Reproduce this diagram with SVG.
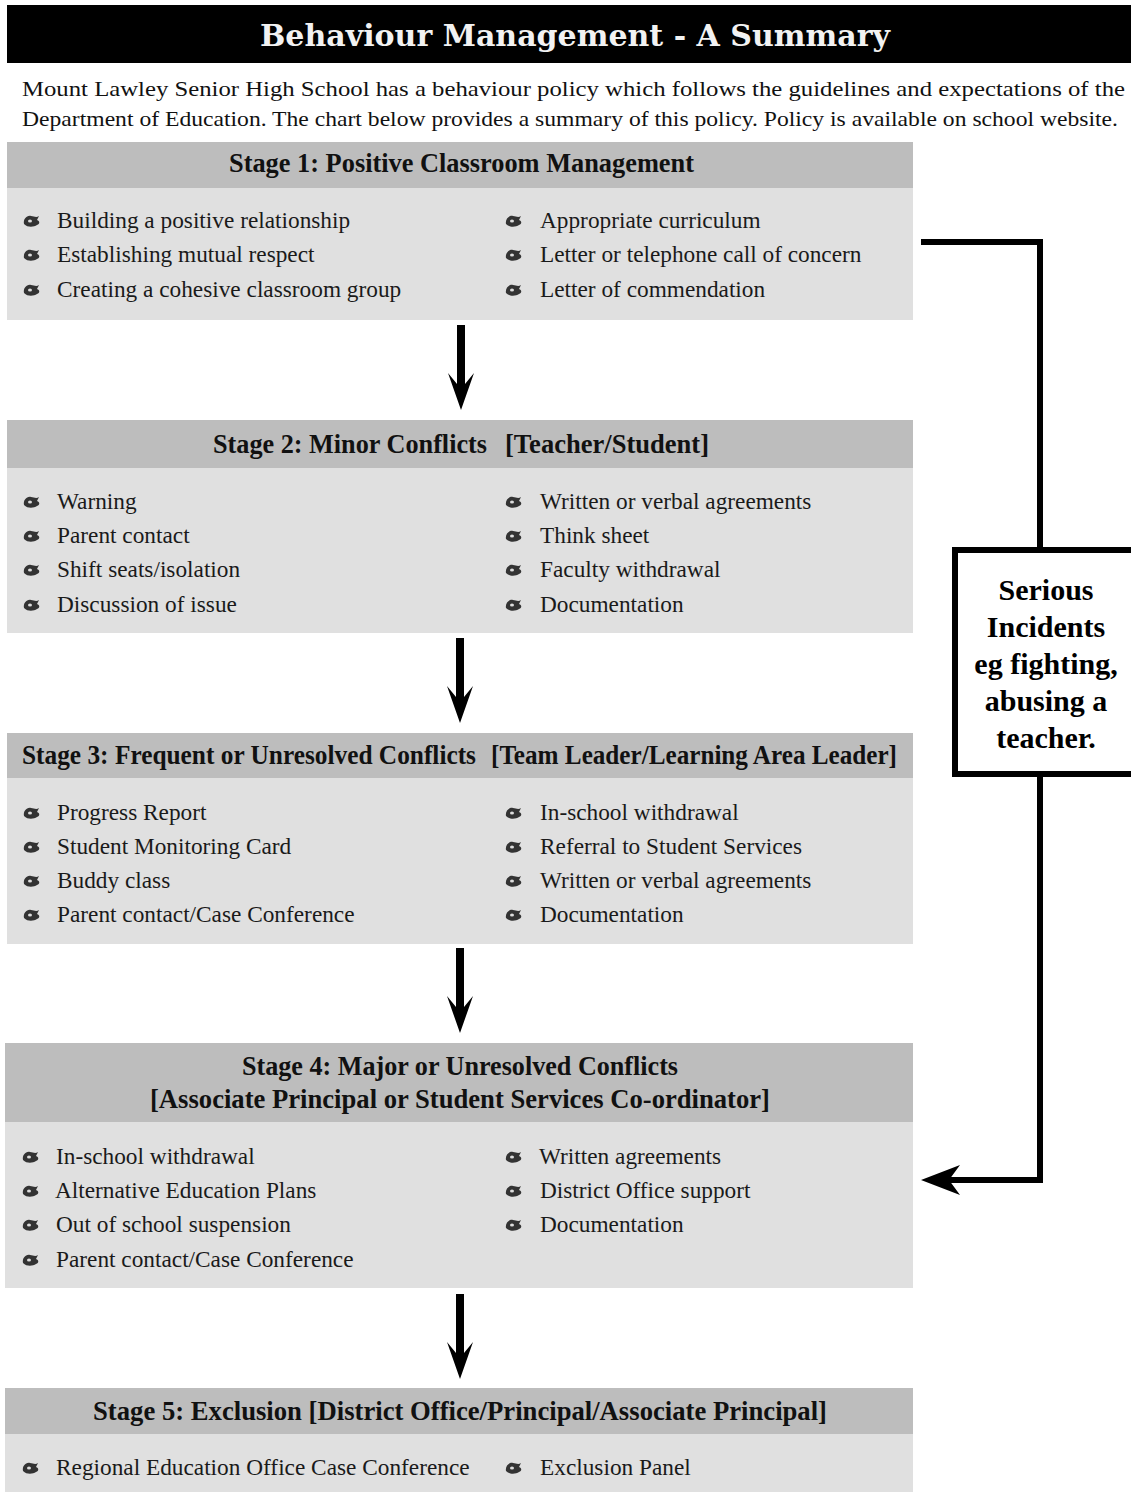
<svg xmlns="http://www.w3.org/2000/svg" width="1131" height="1492" viewBox="0 0 1131 1492">
<defs>
<style>
.hdr{fill:#bdbdbd}
.body{fill:#e0e0e0}
.ht{font-family:"Liberation Serif","Times New Roman",serif;font-weight:bold;font-size:27px;fill:#111}
.it{font-family:"Liberation Serif","Times New Roman",serif;font-size:23.3px;fill:#1a1a1a}
.intro{font-family:"Liberation Serif","Times New Roman",serif;font-size:22px;fill:#111}
.ttl{font-family:"DejaVu Serif","Liberation Serif",serif;font-weight:bold;font-size:30px;fill:#f2f2f2}
.box{font-family:"Liberation Serif","Times New Roman",serif;font-weight:bold;font-size:30px;fill:#000;text-anchor:middle}
.ln{fill:none;stroke:#000;stroke-width:6}
</style>
<g id="bul">
<path d="M-8,3 C-9,-2 -5,-6 -1,-5 C2,-5 4,-3 7,-5 L5,-1 C8,0 8,3 5,4 C2,6 -4,7 -8,3 Z" fill="#333"/>
<ellipse cx="-2" cy="0" rx="2" ry="1.5" fill="#ddd"/>
</g>
<path id="darr" d="M-4,-85 L4,-85 L4,-26 L13,-37 L0,0 L-13,-37 L-4,-26 Z" fill="#000"/>
</defs>

<g id="title">
<rect x="7" y="5" width="1124" height="58" fill="#000"/>
<text class="ttl" x="575" y="46" text-anchor="middle" textLength="630" lengthAdjust="spacingAndGlyphs">Behaviour Management - A Summary</text>
</g>

<g id="intro">
<text class="intro" x="22" y="96" textLength="1103" lengthAdjust="spacingAndGlyphs">Mount Lawley Senior High School has a behaviour policy which follows the guidelines and expectations of the</text>
<text class="intro" x="22" y="126" textLength="1096" lengthAdjust="spacingAndGlyphs">Department of Education. The chart below provides a summary of this policy. Policy is available on school website.</text>
</g>

<g id="stage1">
<rect class="hdr" x="7" y="142" width="906" height="46"/>
<rect class="body" x="7" y="188" width="906" height="132"/>
<text class="ht" x="229" y="172" textLength="465" lengthAdjust="spacingAndGlyphs">Stage 1: Positive Classroom Management</text>
<use href="#bul" x="32" y="221"/><text class="it" x="57" y="228">Building a positive relationship</text>
<use href="#bul" x="32" y="255"/><text class="it" x="57" y="262">Establishing mutual respect</text>
<use href="#bul" x="32" y="290"/><text class="it" x="57" y="297">Creating a cohesive classroom group</text>
<use href="#bul" x="514" y="221"/><text class="it" x="540" y="228">Appropriate curriculum</text>
<use href="#bul" x="514" y="255"/><text class="it" x="540" y="262">Letter or telephone call of concern</text>
<use href="#bul" x="514" y="290"/><text class="it" x="540" y="297">Letter of commendation</text>
</g>

<g id="stage2">
<rect class="hdr" x="7" y="420" width="906" height="48"/>
<rect class="body" x="7" y="468" width="906" height="165"/>
<text class="ht" x="213" y="453" textLength="274" lengthAdjust="spacingAndGlyphs">Stage 2: Minor Conflicts</text>
<text class="ht" x="505" y="453" textLength="204" lengthAdjust="spacingAndGlyphs">[Teacher/Student]</text>
<use href="#bul" x="32" y="502"/><text class="it" x="57" y="509">Warning</text>
<use href="#bul" x="32" y="536"/><text class="it" x="57" y="543">Parent contact</text>
<use href="#bul" x="32" y="570"/><text class="it" x="57" y="577">Shift seats/isolation</text>
<use href="#bul" x="32" y="605"/><text class="it" x="57" y="612">Discussion of issue</text>
<use href="#bul" x="514" y="502"/><text class="it" x="540" y="509">Written or verbal agreements</text>
<use href="#bul" x="514" y="536"/><text class="it" x="540" y="543">Think sheet</text>
<use href="#bul" x="514" y="570"/><text class="it" x="540" y="577">Faculty withdrawal</text>
<use href="#bul" x="514" y="605"/><text class="it" x="540" y="612">Documentation</text>
</g>

<g id="stage3">
<rect class="hdr" x="7" y="733" width="906" height="45"/>
<rect class="body" x="7" y="778" width="906" height="166"/>
<text class="ht" x="22" y="764" textLength="454" lengthAdjust="spacingAndGlyphs">Stage 3: Frequent or Unresolved Conflicts</text>
<text class="ht" x="491" y="764" textLength="406" lengthAdjust="spacingAndGlyphs">[Team Leader/Learning Area Leader]</text>
<use href="#bul" x="32" y="813"/><text class="it" x="57" y="820">Progress Report</text>
<use href="#bul" x="32" y="847"/><text class="it" x="57" y="854">Student Monitoring Card</text>
<use href="#bul" x="32" y="881"/><text class="it" x="57" y="888">Buddy class</text>
<use href="#bul" x="32" y="915"/><text class="it" x="57" y="922">Parent contact/Case Conference</text>
<use href="#bul" x="514" y="813"/><text class="it" x="540" y="820">In-school withdrawal</text>
<use href="#bul" x="514" y="847"/><text class="it" x="540" y="854">Referral to Student Services</text>
<use href="#bul" x="514" y="881"/><text class="it" x="540" y="888">Written or verbal agreements</text>
<use href="#bul" x="514" y="915"/><text class="it" x="540" y="922">Documentation</text>
</g>

<g id="stage4">
<rect class="hdr" x="5" y="1043" width="908" height="79"/>
<rect class="body" x="5" y="1122" width="908" height="166"/>
<text class="ht" x="242" y="1075" textLength="436" lengthAdjust="spacingAndGlyphs">Stage 4: Major or Unresolved Conflicts</text>
<text class="ht" x="150" y="1108" textLength="620" lengthAdjust="spacingAndGlyphs">[Associate Principal or Student Services Co-ordinator]</text>
<use href="#bul" x="31" y="1157"/><text class="it" x="56" y="1164">In-school withdrawal</text>
<use href="#bul" x="31" y="1191"/><text class="it" x="55" y="1198">Alternative Education Plans</text>
<use href="#bul" x="31" y="1225"/><text class="it" x="56" y="1232">Out of school suspension</text>
<use href="#bul" x="31" y="1260"/><text class="it" x="56" y="1267">Parent contact/Case Conference</text>
<use href="#bul" x="514" y="1157"/><text class="it" x="539" y="1164">Written agreements</text>
<use href="#bul" x="514" y="1191"/><text class="it" x="540" y="1198">District Office support</text>
<use href="#bul" x="514" y="1225"/><text class="it" x="540" y="1232">Documentation</text>
</g>

<g id="stage5">
<rect class="hdr" x="5" y="1388" width="908" height="46"/>
<rect class="body" x="5" y="1434" width="908" height="58"/>
<text class="ht" x="93" y="1420" textLength="734" lengthAdjust="spacingAndGlyphs">Stage 5: Exclusion [District Office/Principal/Associate Principal]</text>
<use href="#bul" x="31" y="1468"/><text class="it" x="56" y="1475">Regional Education Office Case Conference</text>
<use href="#bul" x="514" y="1468"/><text class="it" x="540" y="1475">Exclusion Panel</text>
</g>

<g id="serious">
<rect x="955" y="550" width="182" height="224" fill="#fff" stroke="#000" stroke-width="6"/>
<text class="box" x="1046" y="600">Serious</text>
<text class="box" x="1046" y="637">Incidents</text>
<text class="box" x="1046" y="674">eg fighting,</text>
<text class="box" x="1046" y="711">abusing a</text>
<text class="box" x="1046" y="748">teacher.</text>
</g>

<g id="connectors">
<use href="#darr" x="461" y="410"/>
<use href="#darr" x="460" y="723"/>
<use href="#darr" x="460" y="1033"/>
<use href="#darr" x="460" y="1379"/>
<polyline class="ln" points="921,242 1040,242 1040,547"/>
<polyline class="ln" points="1040,777 1040,1180 945,1180"/>
<path d="M921,1180 L960,1165 L949,1180 L960,1195 Z" fill="#000"/>
</g>
</svg>
